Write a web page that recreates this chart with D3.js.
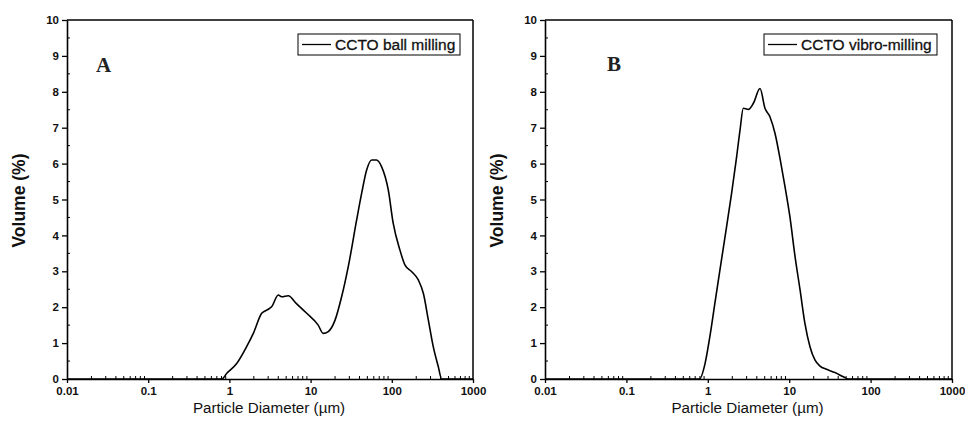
<!DOCTYPE html>
<html><head><meta charset="utf-8">
<script src="https://cdn.jsdelivr.net/npm/d3@7/dist/d3.min.js"></script>
<style>body{margin:0;background:#fff}svg{display:block}</style>
</head><body>
<svg id="chart" width="965" height="434"></svg>
<script>
// Panel A: CCTO ball milling
const diamA = [0.01,0.81,0.93,1.23,1.63,1.97,2.5,2.88,3.31,4.0,4.4,5.3,6.7,8.95,12.4,14.3,16.5,20,24.1,29.1,36.9,42.5,49,56.5,64.6,75,90.6,104,126,145,176,212,245,282,324,374,411,1000];
const volA  = [0,0,0.16,0.43,0.9,1.27,1.83,1.92,2.01,2.34,2.29,2.32,2.1,1.83,1.5,1.27,1.32,1.64,2.29,3.13,4.43,5.17,5.82,6.1,6.1,5.91,5.26,4.34,3.59,3.18,2.99,2.76,2.38,1.64,0.9,0.34,0,0];
// Panel B: CCTO vibro-milling
const diamB = [0.01,0.79,0.925,1.06,1.22,1.41,1.7,1.96,2.26,2.49,2.73,3.15,3.63,4.38,5.04,5.81,6.7,7.7,8.88,10.2,11.8,13.6,15.6,18,20.7,23.9,28.8,36.5,46.2,53.3,1000];
const volB  = [0,0,0.43,1.18,2.1,3.04,4.24,5.17,6.19,6.94,7.54,7.51,7.68,8.09,7.54,7.3,6.84,6.15,5.36,4.52,3.41,2.48,1.55,0.9,0.53,0.36,0.27,0.18,0.06,0,0];
const xTicks = [0.01,0.1,1,10,100,1000];
const xTickLabels = ["0.01","0.1","1","10","100","1000"];
const yTicks = [0,1,2,3,4,5,6,7,8,9,10];
const legendNames = ["CCTO ball milling","CCTO vibro-milling"];
const panelLetters = ["A","B"];

const svg = d3.select("#chart");
const panels = [
  {left:67,right:473,top:20,bottom:379,x:diamA,y:volA,name:legendNames[0],letter:panelLetters[0],
   legend:{x0:298,x1:460,y0:34,y1:55},letterPos:[96,72]},
  {left:545,right:952,top:20,bottom:379,x:diamB,y:volB,name:legendNames[1],letter:panelLetters[1],
   legend:{x0:764,x1:937,y0:34,y1:55},letterPos:[607,71]}
];

panels.forEach(p=>{
  const g = svg.append("g");
  const x = d3.scaleLog().domain([0.01,1000]).range([p.left,p.right]);
  const y = d3.scaleLinear().domain([0,10]).range([p.bottom,p.top]);

  // minor x ticks (inside)
  const minor = [];
  for (let e=-2;e<3;e++) for (let k=2;k<10;k++) minor.push(k*Math.pow(10,e));
  g.selectAll(".mx").data(minor).join("line")
    .attr("x1",d=>x(d)).attr("x2",d=>x(d))
    .attr("y1",p.bottom).attr("y2",p.bottom-3)
    .attr("stroke","#000").attr("stroke-width",1);
  // minor y ticks (inside)
  g.selectAll(".my").data(d3.range(0.5,10,1)).join("line")
    .attr("x1",p.left).attr("x2",p.left+3)
    .attr("y1",d=>y(d)).attr("y2",d=>y(d))
    .attr("stroke","#000").attr("stroke-width",1);

  // x axis
  const xAxis = d3.axisBottom(x).tickValues(xTicks)
    .tickFormat((d,i)=>xTickLabels[i]).tickSize(4).tickSizeOuter(0).tickPadding(4);
  const gx = g.append("g").attr("transform",`translate(0,${p.bottom})`).call(xAxis);
  gx.select(".domain").attr("stroke-width",1.6);
  gx.selectAll("line").attr("stroke-width",1.3);
  gx.selectAll("text").attr("font-family","Liberation Sans, Arial, sans-serif")
    .attr("font-size",11.5).attr("font-weight","bold").attr("fill","#111");

  // y axis
  const yAxis = d3.axisLeft(y).tickValues(yTicks).tickSize(5).tickSizeOuter(0).tickPadding(3);
  const gy = g.append("g").attr("transform",`translate(${p.left},0)`).call(yAxis);
  gy.select(".domain").attr("stroke-width",1.6);
  gy.selectAll("line").attr("stroke-width",1.3);
  gy.selectAll("text").attr("font-family","Liberation Sans, Arial, sans-serif")
    .attr("font-size",11.5).attr("font-weight","bold").attr("fill","#111");

  // frame top/right
  g.append("line").attr("x1",p.left).attr("x2",p.right).attr("y1",p.top).attr("y2",p.top)
    .attr("stroke","#000").attr("stroke-width",1.5);
  g.append("line").attr("x1",p.right).attr("x2",p.right).attr("y1",p.top).attr("y2",p.bottom)
    .attr("stroke","#000").attr("stroke-width",1.5);

  // data line
  const line = d3.line().x((d,i)=>x(p.x[i])).y(d=>y(d)).curve(d3.curveMonotoneX);
  g.append("path").datum(p.y).attr("d",line)
    .attr("fill","none").attr("stroke","#000").attr("stroke-width",1.6);

  // legend
  const L = p.legend;
  g.append("rect").attr("x",L.x0).attr("y",L.y0).attr("width",L.x1-L.x0).attr("height",L.y1-L.y0)
    .attr("fill","#fff").attr("stroke","#000").attr("stroke-width",1);
  g.append("line").attr("x1",L.x0+4).attr("x2",L.x0+33).attr("y1",(L.y0+L.y1)/2).attr("y2",(L.y0+L.y1)/2)
    .attr("stroke","#000").attr("stroke-width",1.3);
  g.append("text").attr("x",L.x0+37).attr("y",(L.y0+L.y1)/2+5.5)
    .attr("font-family","Liberation Sans, Arial, sans-serif").attr("font-size",15.5)
    .attr("fill","#111").attr("stroke","#111").attr("stroke-width",0.3).text(p.name);

  // panel letter
  g.append("text").attr("x",p.letterPos[0]).attr("y",p.letterPos[1])
    .attr("font-family","Liberation Serif, Times New Roman, serif").attr("font-size",21)
    .attr("font-weight","bold").attr("fill","#222").text(p.letter);

  // axis titles
  g.append("text").attr("transform",`translate(${p.left-42},${(p.top+p.bottom)/2+1}) rotate(-90)`)
    .attr("text-anchor","middle").attr("font-family","Liberation Sans, Arial, sans-serif")
    .attr("font-size",17.5).attr("font-weight","bold").attr("fill","#111").text("Volume (%)");
  g.append("text").attr("x",(p.left+p.right)/2-1).attr("y",413)
    .attr("text-anchor","middle").attr("font-family","Liberation Sans, Arial, sans-serif")
    .attr("font-size",15.2).attr("fill","#111").text("Particle Diameter (µm)");
});
</script>
</body></html>
